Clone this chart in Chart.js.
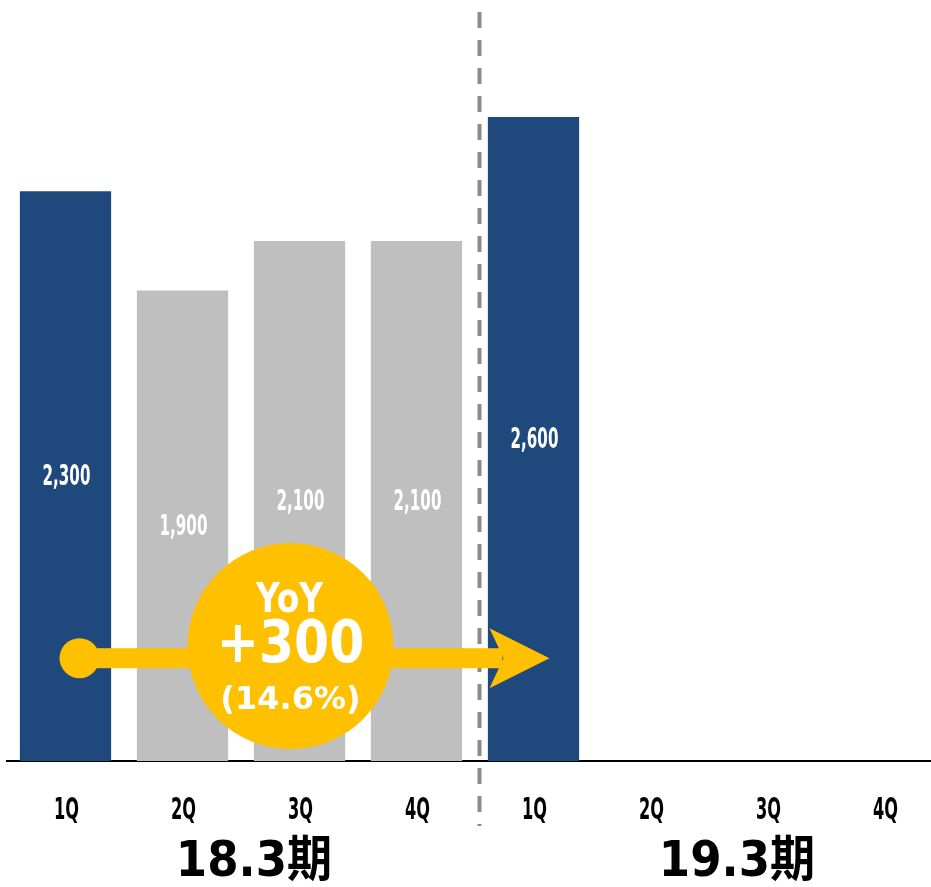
<!DOCTYPE html>
<html>
<head>
<meta charset="utf-8">
<script src="https://cdn.jsdelivr.net/npm/chart.js@4.4.1/dist/chart.umd.min.js"></script>
<style>
html, body { margin: 0; padding: 0; overflow: hidden; background: #fff; }
#wrap { width: 945px; height: 887px; }
</style>
</head>
<body>
<div id="wrap"><canvas id="sales-chart"></canvas></div>
<script>
const quarters = ['1Q', '2Q', '3Q', '4Q', '1Q', '2Q', '3Q', '4Q'];
const periods = ['18.3期', '19.3期'];
const sales = [2300, 1900, 2100, 2100, 2600, null, null, null];
const barColors = ['#1f497d', '#bfbfbf', '#bfbfbf', '#bfbfbf', '#1f497d', '#bfbfbf', '#bfbfbf', '#bfbfbf'];
const yoyTitle = 'YoY';
const yoyRate = '14.6%';
const yoyDiff = sales[4] - sales[0];

const YELLOW = '#ffc000';
const NARROW = '"DejaVu Sans Condensed", "DejaVu Sans", sans-serif';
const WIDE = '"DejaVu Sans", "Noto Sans CJK JP", sans-serif';

// centred text, squeezed horizontally by sx
function text(ctx, str, x, y, font, color, sx) {
    ctx.save();
    ctx.translate(x, y);
    ctx.scale(sx, 1);
    ctx.font = font;
    ctx.fillStyle = color;
    ctx.textAlign = 'center';
    ctx.textBaseline = 'middle';
    ctx.fillText(str, 0, 0);
    ctx.restore();
}

const overlay = {
    id: 'overlay',
    afterDatasetsDraw(chart) {
        const ctx = chart.ctx;
        const x = chart.scales.x;
        const y = chart.scales.y;
        const cx = i => x.getPixelForValue(i);

        // period divider
        const divX = (cx(3) + cx(4)) / 2 + 4.5;
        ctx.save();
        ctx.strokeStyle = '#8a8a8a';
        ctx.lineWidth = 4;
        ctx.setLineDash([16, 12]);
        ctx.beginPath();
        ctx.moveTo(divX, 12);
        ctx.lineTo(divX, 826);
        ctx.stroke();
        ctx.restore();

        // value labels in the middle of each bar
        sales.forEach((v, i) => {
            if (v == null) return;
            text(ctx, v.toLocaleString('en-US'), cx(i) + 1, y.getPixelForValue(v / 2) + 2,
                 'bold 28px ' + NARROW, '#fff', 0.6);
        });

        // YoY arrow from 18.3 1Q to 19.3 1Q
        const ay = y.getPixelForValue(415);
        const x0 = cx(0) + 14;
        const x1 = cx(4);
        ctx.save();
        ctx.fillStyle = YELLOW;
        ctx.beginPath();
        ctx.arc(x0, ay, 20, 0, Math.PI * 2);
        ctx.fill();
        ctx.fillRect(x0, ay - 10, x1 - 31 - x0, 20);
        ctx.beginPath();
        ctx.moveTo(x1 - 44, ay - 30);
        ctx.lineTo(x1 + 16, ay);
        ctx.lineTo(x1 - 44, ay + 30);
        ctx.lineTo(x1 - 30, ay);
        ctx.closePath();
        ctx.fill();

        const bx = cx(2) - 9;
        const by = y.getPixelForValue(464);
        ctx.beginPath();
        ctx.arc(bx, by, 103, 0, Math.PI * 2);
        ctx.fill();
        ctx.restore();

        text(ctx, yoyTitle, bx - 1, by - 45, 'bold 41px ' + WIDE, '#fff', 0.8);
        text(ctx, '+' + yoyDiff, bx, by + 1, 'bold 58px ' + WIDE, '#fff', 0.87);
        text(ctx, '(' + yoyRate + ')', bx, by + 55, 'bold 32px ' + WIDE, '#fff', 1);

        // quarter labels and fiscal period labels
        quarters.forEach((q, i) => {
            text(ctx, q, cx(i) + 1, 811, 'bold 30px ' + NARROW, '#000', 0.6);
        });
        text(ctx, periods[0], (cx(0) + cx(3)) / 2 + 13, 863, 'bold 49px ' + WIDE, '#000', 0.92);
        text(ctx, periods[1], (cx(4) + cx(7)) / 2 + 28, 863, 'bold 49px ' + WIDE, '#000', 0.92);
    }
};

const ctx = document.getElementById('sales-chart');

const sales_chart = new Chart(ctx, {
    type: 'bar',
    data: {
        labels: quarters,
        datasets: [{
            label: 'sales',
            data: sales,
            backgroundColor: barColors,
            barPercentage: 0.78,
            categoryPercentage: 1
        }]
    },
    options: {
        responsive: true,
        maintainAspectRatio: false,
        animation: false,
        events: [],
        layout: {
            padding: { left: 7, right: 2, top: 18, bottom: 126 }
        },
        plugins: {
            legend: { display: false },
            tooltip: { enabled: false }
        },
        scales: {
            x: {
                grid: { display: false, drawTicks: false },
                ticks: { display: false },
                border: { color: '#000', width: 2 },
                afterFit: s => { s.height = 0; }
            },
            y: {
                display: false,
                min: 0,
                max: 3000
            }
        }
    },
    plugins: [overlay]
});
</script>
</body>
</html>
